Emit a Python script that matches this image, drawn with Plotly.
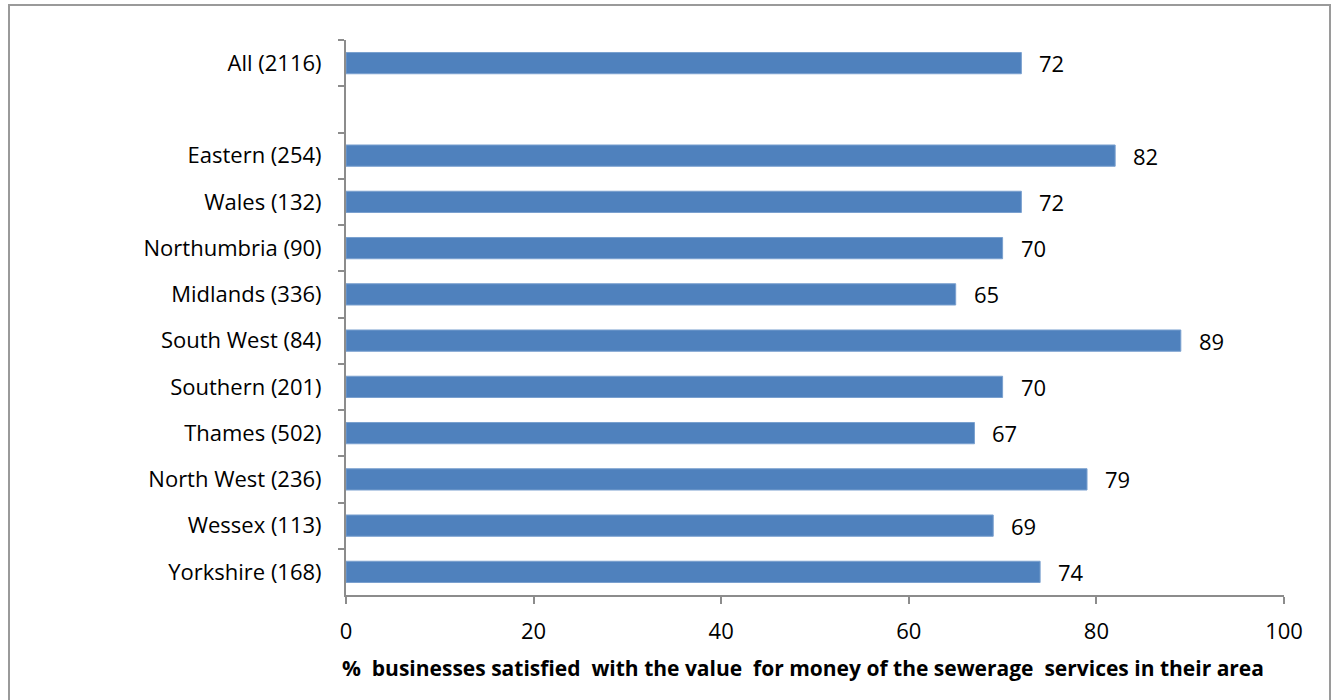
import plotly.graph_objects as go

# Regions (with respondent counts) and satisfaction scores, top to bottom
regions = ["All (2116)", "Eastern (254)", "Wales (132)", "Northumbria (90)",
           "Midlands (336)", "South West (84)", "Southern (201)", "Thames (502)",
           "North West (236)", "Wessex (113)", "Yorkshire (168)"]
satisfied = [72, 82, 72, 70, 65, 89, 70, 67, 79, 69, 74]

# Category order on the axis, with an empty slot after the overall figure
axis_order = ["All (2116)", " ", "Eastern (254)", "Wales (132)", "Northumbria (90)",
              "Midlands (336)", "South West (84)", "Southern (201)", "Thames (502)",
              "North West (236)", "Wessex (113)", "Yorkshire (168)"]

x_ticks = [0, 20, 40, 60, 80, 100]
x_title = "%  businesses satisfied  with the value  for money of the sewerage  services in their area"

FONT = "'Open Sans', Calibri, Carlito, sans-serif"
AXIS_GREY = "#8c8c8c"

fig = go.Figure()
fig.add_trace(go.Bar(
    x=satisfied,
    y=regions,
    orientation="h",
    marker=dict(color="#4F81BD", line=dict(color="#7aa0cf", width=1)),
    width=0.46,
    hoverinfo="x+y",
))

# Value labels placed just past the end of each bar
for name, val in zip(regions, satisfied):
    fig.add_annotation(
        x=val, y=name, xref="x", yref="y",
        text=str(val), showarrow=False,
        xanchor="left", xshift=16,
        font=dict(family=FONT, size=22, color="#000000"),
    )

# X-axis caption, set slightly left of the plot centre
fig.add_annotation(
    x=(803 - 346) / 938, y=-73 / 555, xref="paper", yref="paper",
    text="<b>" + x_title + "</b>", showarrow=False,
    xanchor="center", yanchor="middle",
    font=dict(family=FONT, size=21, color="#000000"),
)

# Outer chart border
fig.add_shape(
    type="rect", xref="paper", yref="paper",
    x0=(9 - 346) / 938, x1=(1330 - 346) / 938,
    y0=(595 - 720) / 555, y1=(595 - 5) / 555,
    line=dict(color="#9a9a9a", width=2),
    fillcolor="rgba(0,0,0,0)",
    layer="below",
)

fig.update_layout(
    width=1333,
    height=700,
    margin=dict(l=346, r=49, t=40, b=105),
    paper_bgcolor="white",
    plot_bgcolor="white",
    showlegend=False,
    font=dict(family=FONT, size=22, color="#000000"),
    xaxis=dict(
        range=[0, 100],
        tickvals=x_ticks,
        ticktext=[str(v) for v in x_ticks],
        showgrid=False,
        zeroline=False,
        showline=True,
        linecolor=AXIS_GREY,
        linewidth=2,
        ticks="outside",
        ticklen=7,
        tickwidth=2,
        tickcolor=AXIS_GREY,
        tickfont=dict(family=FONT, size=22),
        ticklabelstandoff=9,
    ),
    yaxis=dict(
        type="category",
        categoryorder="array",
        categoryarray=axis_order,
        range=[len(axis_order) - 0.5, -0.5],
        showgrid=False,
        zeroline=False,
        showline=True,
        linecolor=AXIS_GREY,
        linewidth=2,
        ticks="outside",
        tickson="boundaries",
        ticklen=6,
        tickwidth=2,
        tickcolor=AXIS_GREY,
        tickfont=dict(family=FONT, size=22),
        ticklabelstandoff=18,
    ),
)

fig.write_html("out.html")
